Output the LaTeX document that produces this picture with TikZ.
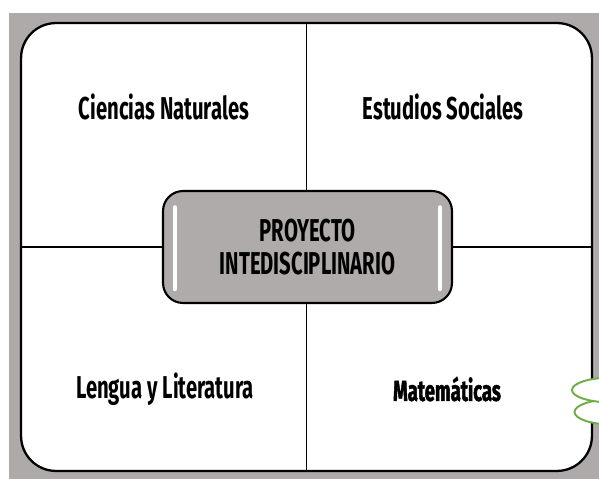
\documentclass[tikz,border=0pt]{standalone}
\usepackage{fontspec}
\setmainfont{Fira Sans}[FakeStretch=0.64]
\usetikzlibrary{positioning, shapes.geometric}
\definecolor{panelgray}{HTML}{AEAAAA}
\definecolor{boxgray}{HTML}{AFABAB}
\definecolor{cloudgreen}{HTML}{70AD47}
\tikzset{%
   % white frame split into four areas
   frame/.style={
      draw=black,
      line width=1.3pt,
      fill=white,
      rounded corners=0.7cm,
      minimum width=11.42cm,
      minimum height=8.96cm
   },
   divider/.style={
      draw=black,
      line width=0.8pt
   },
   area/.style={
      font=\bfseries\fontsize{18}{19}\selectfont
   },
   hub/.style={
      draw=black,
      line width=1.2pt,
      fill=boxgray,
      rounded corners=0.4cm,
      minimum width=5.78cm,
      minimum height=2.24cm,
      align=center,
      font=\bfseries\fontsize{18}{19}\selectfont
   },
   shine/.style={
      draw=white,
      line width=2.5pt,
      line cap=round
   },
   cloud/.style={
      ellipse,
      draw=cloudgreen,
      line width=1.1pt,
      fill=white
   },
}

\begin{document}
\begin{tikzpicture}[x=0.02cm, y=-0.02cm]
    \useasboundingbox (0,0) rectangle (599,479);
    \fill[panelgray] (9,13) rectangle (599,479);
    \node[frame] (F) at (306.5,247) {};
    \draw[divider] (F.north) -- (F.south);
    \draw[divider] (F.west) -- (F.east);
    \node[area] (cn) at (164,107) {Ciencias Naturales};
    \node[area] (es) at (443,107) {Estudios Sociales};
    \node[area] (ll) at (165,389) {Lengua y Literatura};
    \node[area, font=\bfseries\fontsize{16.5}{18}\selectfont\addfontfeatures{FakeBold=1.5}] (ma) at (447,389) {Matemáticas};
    \node[hub] (P) at (307.5,247) {PROYECTO\\INTEDISCIPLINARIO};
    \coordinate (s1) at ([xshift=0.26cm, yshift=0.3cm]P.south west);
    \coordinate (s2) at ([xshift=0.26cm, yshift=-0.35cm]P.north west);
    \coordinate (s3) at ([xshift=-0.26cm, yshift=0.3cm]P.south east);
    \coordinate (s4) at ([xshift=-0.26cm, yshift=-0.35cm]P.north east);
    \draw[shine] (s1) -- (s2);
    \draw[shine] (s3) -- (s4);
    \begin{scope}
        \clip (0,0) rectangle (599,479);
        \node[cloud, minimum width=1.5cm, minimum height=0.5cm] (c2) at (612,412) {};
        \node[cloud, minimum width=1.6cm, minimum height=0.5cm] (c1) at (612,390) {};
    \end{scope}
\end{tikzpicture}
\end{document}
